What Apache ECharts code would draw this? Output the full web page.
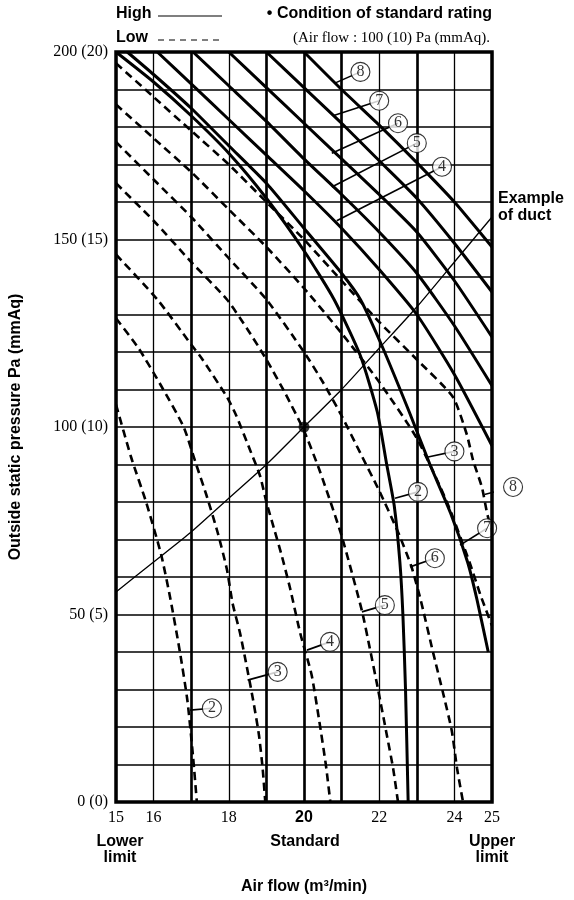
<!DOCTYPE html>
<html><head><meta charset="utf-8">
<script src="https://cdn.jsdelivr.net/npm/echarts@6/dist/echarts.min.js"></script>
<style>html,body{margin:0;padding:0;background:#fff}#c{width:574px;height:900px}</style>
</head><body><div id="c"></div>
<script>
// Tick labels
const xTickLabels = [15, 16, 18, 20, 22, 24, 25];
const yTickLabels = [0, 50, 100, 150, 200];
const thickGridX = [17, 19, 20, 21, 23];

// High (solid) curves: [air flow, pressure]
const high2 = [[15,200],[16,192],[17,183],[18,173],[19,161],[20,147],[20.8,134],[21.5,119],[21.95,104],[22.2,90],[22.4,79],[22.55,64],[22.63,50],[22.7,30],[22.77,0]];
const high3 = [[15.3,200],[16,194],[17,185],[18,175],[19,165],[20,153],[21,141],[21.5,134],[22.1,121],[22.8,104],[23.35,90],[23.9,77],[24.35,64],[24.6,54],[24.9,40]];
const high4 = [[16.1,200],[17,191.5],[18,182],[19,172.5],[20,163],[21,153],[22,142],[23,130],[24,114],[25,95]];
const high5 = [[17.05,200],[18,191],[19,181.5],[20,171.5],[21,162],[22,152],[23,141],[24,127],[25,111]];
const high6 = [[18,200],[19,190.5],[20,181],[21,171.5],[22,162],[23,152],[24,139],[25,124]];
const high7 = [[19,200],[20,190.5],[21,181],[22,171],[23,161],[24,149],[25,136]];
const high8 = [[20,200],[21,190],[22,180.5],[23,170.5],[24,160],[25,148]];

// Low (dashed) curves
const low2 = [[15,106],[15.4,92],[15.8,80],[16.2,66],[16.45,54],[16.7,40],[16.9,27],[17.05,12],[17.15,0]];
const low3 = [[15,129],[15.6,121],[16.2,111],[16.8,100],[17.1,91],[17.4,82],[17.7,72],[17.95,62],[18.1,53],[18.3,45],[18.48,36],[18.65,27],[18.8,18],[18.9,9],[18.97,0]];
const low4 = [[15,146],[16.1,134],[17,122],[17.3,118],[17.95,108],[18.2,103],[18.56,94],[18.83,87],[19.0,80],[19.2,73],[19.4,66],[19.63,57],[19.9,45],[20.2,34],[20.4,22],[20.58,10],[20.7,0]];
const low5 = [[15,165],[16,155],[17,144],[17.95,134],[18.5,126],[19,118],[19.5,109],[20,99],[20.43,88],[21,71],[21.54,51],[21.75,41],[21.97,30],[22.2,18],[22.37,9],[22.5,0]];
const low6 = [[15,176],[16,166],[17,156],[18,145],[19,134],[20,120],[20.5,112],[21,103],[21.5,93],[22,83],[22.5,72],[22.85,63],[23.1,54],[23.43,40],[23.7,29],[23.93,19],[24.07,9],[24.23,0]];
const low7 = [[15,186],[16,177],[17,168],[18,158],[19,148],[20,137],[21,125],[22,112],[23,97],[23.8,80],[24.4,64],[24.7,55],[25,47]];
const low8 = [[15,197],[16,188],[17,179],[18,170],[19,160],[20,150],[21,139],[22,128],[23,118],[23.96,108],[24.33,98],[24.5,91],[24.73,84],[24.87,77],[25,72]];

// Example of duct resistance curve
const duct = [[15,56],[16,64],[17,72],[18,81],[19,90],[20,100],[21,110],[22,121],[23,132],[24,144],[25,156]];
const standardPoint = [[20,100]];

// Callout labels: [text, labelX, labelY, tipX, tipY]
const callouts = [
  ['2', 17.55, 25, 16.97, 24.5],
  ['3', 19.3, 34.7, 18.5, 32.5],
  ['4', 20.69, 42.7, 20.08, 40.5],
  ['5', 22.15, 52.5, 21.54, 50.7],
  ['6', 23.48, 65, 22.82, 62.7],
  ['7', 24.87, 73, 24.15, 68.5],
  ['8', 25.56, 84, 24.8, 82],
  ['2', 23.03, 82.7, 22.42, 81],
  ['3', 24.0, 93.5, 23.3, 92],
  ['8', 21.5, 194.7, 20.82, 191.7],
  ['7', 22.0, 187, 20.77, 183],
  ['6', 22.5, 181, 20.74, 173],
  ['5', 23.0, 175.7, 20.74, 164],
  ['4', 23.67, 169.4, 20.87, 155]
];

const chart = echarts.init(document.getElementById('c'), null, {renderer: 'canvas'});
const serif = 'Liberation Serif';
const sans = 'Liberation Sans';

function solid(data) {
  return {type:'line', data, showSymbol:false, smooth:0.2, silent:true,
    lineStyle:{color:'#000', width:3}, z:5};
}
function dashed(data) {
  return {type:'line', data, showSymbol:false, smooth:0.2, silent:true,
    lineStyle:{color:'#000', width:2.6, type:[8,5]}, z:4};
}

const series = [
  solid(high2), solid(high3), solid(high4), solid(high5), solid(high6), solid(high7), solid(high8),
  dashed(low2), dashed(low3), dashed(low4), dashed(low5), dashed(low6), dashed(low7), dashed(low8),
  {type:'line', data:duct, showSymbol:false, smooth:0.2, silent:true, lineStyle:{color:'#000', width:1.3}, z:3,
   markLine:{silent:true, symbol:'none', label:{show:false}, lineStyle:{color:'#000', width:2.6, type:'solid'},
     data: thickGridX.map(v => ({xAxis:v}))}},
  {type:'scatter', data:standardPoint, symbolSize:11, itemStyle:{color:'#000'}, z:6, silent:true}
];

callouts.forEach(c => {
  series.push({type:'line', data:[[c[1],c[2]],[c[3],c[4]]], showSymbol:false, silent:true, clip:false,
    lineStyle:{color:'#000', width:1.6}, z:7});
});
series.push({type:'scatter', data: callouts.map(c => [c[1], c[2], c[0]]), symbol:'circle', symbolSize:19, clip:false,
  itemStyle:{color:'#fff', borderColor:'#000', borderWidth:1.1}, z:8, silent:true,
  label:{show:true, position:'inside', formatter:p => p.data[2], color:'#000', fontFamily:serif, fontSize:16}});

chart.setOption({
  animation:false,
  backgroundColor:'#fff',
  grid:{left:116, right:82, top:52, bottom:98, show:false},
  xAxis:{type:'value', min:15, max:25, interval:1,
    axisLine:{show:false}, axisTick:{show:false},
    splitLine:{show:true, lineStyle:{color:'#000', width:1.3}},
    axisLabel:{margin:8, color:'#000', fontFamily:serif, fontSize:16,
      formatter: v => xTickLabels.indexOf(v) < 0 ? '' : (v === 20 ? '{b|20}' : String(v)),
      rich:{b:{fontFamily:sans, fontWeight:'bold', fontSize:16, color:'#000'}}}},
  yAxis:{type:'value', min:0, max:200, interval:10,
    axisLine:{show:false}, axisTick:{show:false},
    splitLine:{show:true, lineStyle:{color:'#000', width:1.6}},
    axisLabel:{margin:8, color:'#000', fontFamily:serif, fontSize:16,
      formatter: v => yTickLabels.indexOf(v) < 0 ? '' : (v + ' (' + (v/10) + ')')}},
  series,
  graphic:[
    {type:'rect', shape:{x:116, y:52, width:376, height:750}, style:{fill:'none', stroke:'#000', lineWidth:3.5}, z:10},
    {type:'text', left:116, top:6, style:{text:'High', font:'bold 16px "Liberation Sans"', fill:'#000'}},
    {type:'line', shape:{x1:158, y1:16, x2:222, y2:16}, style:{stroke:'#000', lineWidth:1.2}},
    {type:'text', left:116, top:30, style:{text:'Low', font:'bold 16px "Liberation Sans"', fill:'#000'}},
    {type:'line', shape:{x1:158, y1:40, x2:222, y2:40}, style:{stroke:'#000', lineWidth:1.2, lineDash:[6,5]}},
    {type:'text', right:82, top:6, style:{text:'• Condition of standard rating', font:'bold 16px "Liberation Sans"', fill:'#000'}},
    {type:'text', right:84, top:31, style:{text:'(Air flow : 100 (10) Pa (mmAq).', font:'15px "Liberation Serif"', fill:'#000'}},
    {type:'text', left:498, top:190, style:{text:'Example\nof duct', font:'bold 16px "Liberation Sans"', fill:'#000', lineHeight:17}},
    {type:'text', x:120, y:834, style:{text:'Lower\nlimit', font:'bold 16px "Liberation Sans"', fill:'#000', align:'center', lineHeight:16}},
    {type:'text', x:305, y:834, style:{text:'Standard', font:'bold 16px "Liberation Sans"', fill:'#000', align:'center'}},
    {type:'text', x:492, y:834, style:{text:'Upper\nlimit', font:'bold 16px "Liberation Sans"', fill:'#000', align:'center', lineHeight:16}},
    {type:'text', x:304, y:879, style:{text:'Air flow (m³/min)', font:'bold 16px "Liberation Sans"', fill:'#000', align:'center'}},
    {type:'text', x:16, y:427, rotation:Math.PI/2, style:{text:'Outside static pressure Pa (mmAq)', font:'bold 16px "Liberation Sans"', fill:'#000', align:'center', verticalAlign:'middle'}}
  ]
});
</script></body></html>
